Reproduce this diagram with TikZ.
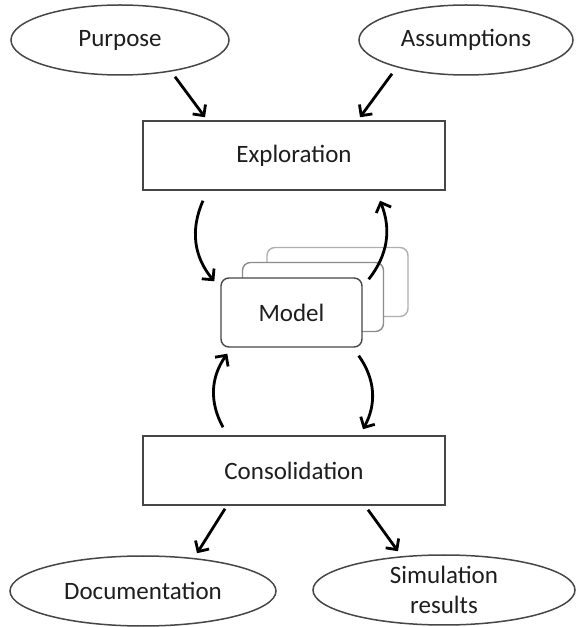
\documentclass[tikz,border=0pt]{standalone}
\usepackage{fontspec}
\setmainfont{Carlito}
\usetikzlibrary{arrows.meta,positioning,calc,shapes.geometric}
\definecolor{ink}{RGB}{30,30,30}
\definecolor{frame}{RGB}{70,70,70}
\definecolor{soft}{RGB}{140,140,140}
\definecolor{softer}{RGB}{175,175,175}
\tikzset{
  every picture/.style={color=ink, font=\fontsize{12.5}{15}\selectfont},
  goal/.style={ellipse, draw=frame, line width=0.75pt, fill=white, inner sep=0pt, align=center, minimum width=109pt, minimum height=35pt},
  phase/.style={rectangle, draw=frame, line width=0.75pt, fill=white, minimum width=151pt, minimum height=34.5pt},
  card/.style={rectangle, rounded corners=4pt, draw=frame, line width=0.7pt, fill=white, minimum width=70.5pt, minimum height=34.5pt},
  flow/.style={-{Straight Barb[length=4pt,width=8pt,line width=1.4pt]}, line width=1.4pt, color=black},
}

\begin{document}
\begin{tikzpicture}[x=0.5pt, y=0.5pt]
  \useasboundingbox (0,0) rectangle (575,627);
  % inputs and outputs
  \node[goal] (purpose) at (120,587) {Purpose};
  \node[goal, minimum width=107pt] (assume) at (466,587) {Assumptions};
  \node[goal, minimum width=133pt] (docs) at (143,36) {Documentation};
  \node[goal, minimum width=131pt] (sim) at (444,37) {Simulation\\results};
  % the two phases
  \node[phase] (explore) at (294,471.5) {Exploration};
  \node[phase] (consol) at (294,156.5) {Consolidation};
  % stack of model versions, back to front
  \coordinate (mc) at (291.5,314.5);
  \node[card, draw=softer] (model3) at ([shift={(46,30.5)}]mc) {};
  \node[card, draw=soft] (model2) at ([shift={(21.5,15.5)}]mc) {};
  \node[card] (model) at (mc) {Model};
  \draw[flow] ([shift={(55,-1)}]purpose.south) -- ([shift={(-89,3)}]explore.north);
  \draw[flow] ([shift={(-74,2)}]assume.south) -- ([shift={(66,3)}]explore.north);
  \draw[flow] ([shift={(-91,-10)}]explore.south) to[bend right=32] ([shift={(-6,-4)}]model.north west);
  \draw[flow] ([shift={(6,-2)}]model.north east) to[bend right=30] ([shift={(86,-10)}]explore.south);
  \draw[flow] ([shift={(-71,8)}]consol.north) to[bend left=32] ([shift={(7,-6)}]model.south west);
  \draw[flow] ([shift={(-4,-8)}]model.south east) to[bend left=32] ([shift={(69,6)}]consol.north);
  \draw[flow] ([shift={(-69,-3)}]consol.south) -- ([shift={(54,2)}]docs.north);
  \draw[flow] ([shift={(74,-4)}]consol.south) -- ([shift={(-46,3)}]sim.north);
\end{tikzpicture}
\end{document}
